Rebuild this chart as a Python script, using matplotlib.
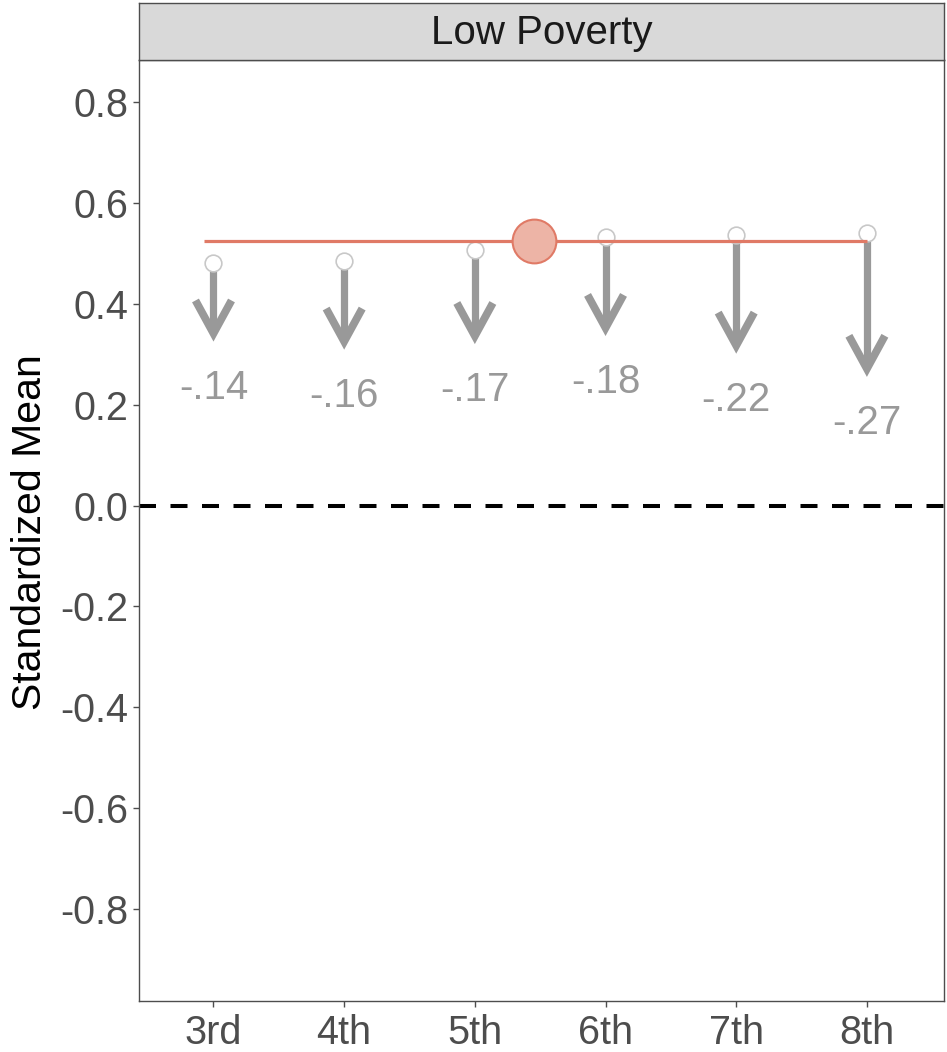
import matplotlib
matplotlib.use("Agg")
import matplotlib.pyplot as plt
import numpy as np

plt.rcParams['font.family'] = ['Liberation Sans', 'DejaVu Sans']
plt.rcParams['lines.scale_dashes'] = False

# ---- data ----
grades = ["3rd", "4th", "5th", "6th", "7th", "8th"]
start_means = [0.481, 0.485, 0.506, 0.532, 0.537, 0.541]
changes = [-0.14, -0.16, -0.17, -0.18, -0.22, -0.27]
change_labels = ["-.14", "-.16", "-.17", "-.18", "-.22", "-.27"]
ref_mean = 0.525
ref_line_x = [0.93, 6.0]
ref_point_x = 3.455
y_ticks = [-0.8, -0.6, -0.4, -0.2, 0.0, 0.2, 0.4, 0.6, 0.8]
panel_title = "Low Poverty"
y_title = "Standardized Mean"

W, H = 947, 1052
fig = plt.figure(figsize=(W / 100, H / 100), dpi=100)

pl, pr, pt, pb = 139, 944, 60, 1001
ax = fig.add_axes([pl / W, 1 - pb / H, (pr - pl) / W, (pb - pt) / H])
ax.set_xlim(0.43, 6.59)
ax.set_ylim(-0.982, 0.883)

x = np.arange(1, len(grades) + 1)

# zero reference line
ax.axhline(0, color="black", lw=2.9, dashes=(12.24, 10.44), zorder=1)

# arrows
gray = "#999999"
px_x = (6.59 - 0.43) / (pr - pl)
px_y = (0.883 + 0.982) / (pb - pt)
hw, hl = 18 * px_x, 33 * px_y
for xi, s, c, lab in zip(x, start_means, changes, change_labels):
    end = s + c
    ax.plot([xi, xi], [s, end + 4 * px_y], color=gray, lw=5.2,
            solid_capstyle="butt", zorder=2)
    ax.plot([xi - hw, xi, xi + hw], [end + hl, end, end + hl], color=gray,
            lw=5.6, solid_capstyle="butt", solid_joinstyle="miter", zorder=2)
    ax.text(xi, end - 0.108, lab, color=gray, fontsize=29, ha="center",
            va="center", zorder=3)

# starting points
ax.plot(x, start_means, "o", ms=12, mfc="white", mec="#c8c8c8", mew=1.2,
        zorder=3, ls="none")

# reference line and point
ax.plot(ref_line_x, [ref_mean, ref_mean], color="#E07A66", lw=2.3, zorder=4,
        solid_capstyle="butt")
ax.plot([ref_point_x], [ref_mean], "o", ms=31.5, mfc="#EDB4A6", mec="#E07A66",
        mew=1.5, zorder=5)

# axes styling
ax.set_xticks(x)
ax.set_xticklabels(grades)
ax.set_yticks(y_ticks)
ax.set_yticklabels([f"{v:.1f}" for v in y_ticks])
ax.tick_params(axis="both", labelsize=28.5, labelcolor="#4d4d4d", color="#4d4d4d",
               length=4, width=1.0, direction="out", pad=3.5)
ax.tick_params(axis="x", pad=5)
for sp in ax.spines.values():
    sp.set_color("#4d4d4d")
    sp.set_linewidth(1.0)

# strip
st, sb = 3, 60
sax = fig.add_axes([pl / W, 1 - sb / H, (pr - pl) / W, (sb - st) / H])
sax.set_facecolor("#d9d9d9")
sax.set_xticks([])
sax.set_yticks([])
for sp in sax.spines.values():
    sp.set_color("#4d4d4d")
    sp.set_linewidth(1.0)
sax.text(0.5, 0.47, panel_title, ha="center", va="center", fontsize=29,
         color="#1a1a1a", transform=sax.transAxes)

fig.text(30 / W, 1 - 532 / H, y_title, rotation=90, ha="center", va="center",
         fontsize=29.5, color="black")

fig.savefig("out.png", dpi=100)
